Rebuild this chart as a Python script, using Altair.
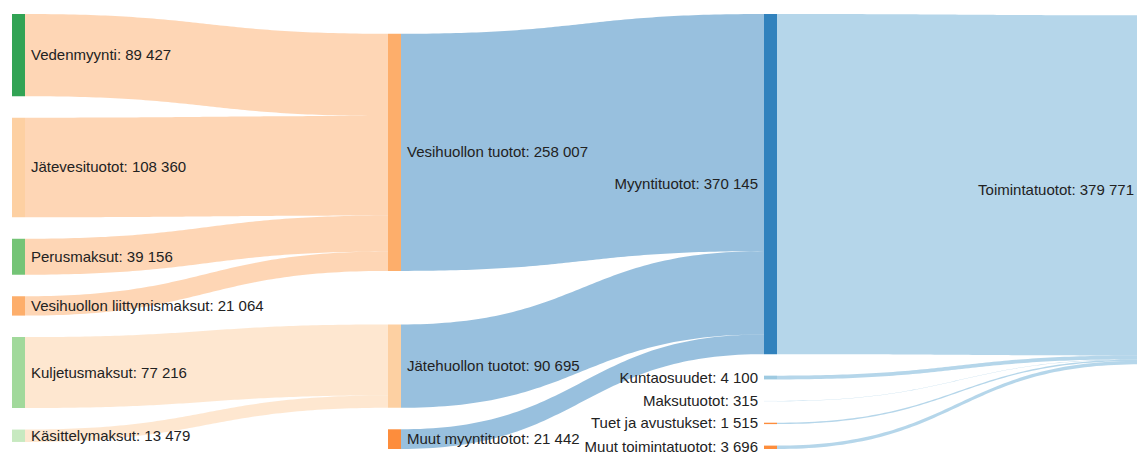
import altair as alt
import pandas as pd
import numpy as np

# ---------------- data ----------------
node_names = [
    "Vedenmyynti", "Jätevesituotot", "Perusmaksut", "Vesihuollon liittymismaksut",
    "Kuljetusmaksut", "Käsittelymaksut",
    "Vesihuollon tuotot", "Jätehuollon tuotot", "Muut myyntituotot",
    "Myyntituotot", "Kuntaosuudet", "Maksutuotot", "Tuet ja avustukset", "Muut toimintatuotot",
    "Toimintatuotot",
]
node_colors = [
    "#31a354", "#fdd0a2", "#74c476", "#fdae6b",
    "#a1d99b", "#c7e9c0",
    "#fdae6b", "#fdd0a2", "#fd8d3c",
    "#3182bd", "#9ecae1", "#c6dbef", "#fd8d3c", "#fd8d3c",
    "#6baed6",
]
link_sources = [
    "Vedenmyynti", "Jätevesituotot", "Perusmaksut", "Vesihuollon liittymismaksut",
    "Kuljetusmaksut", "Käsittelymaksut",
    "Vesihuollon tuotot", "Jätehuollon tuotot", "Muut myyntituotot",
    "Myyntituotot", "Kuntaosuudet", "Maksutuotot", "Tuet ja avustukset", "Muut toimintatuotot",
]
link_targets = [
    "Vesihuollon tuotot", "Vesihuollon tuotot", "Vesihuollon tuotot", "Vesihuollon tuotot",
    "Jätehuollon tuotot", "Jätehuollon tuotot",
    "Myyntituotot", "Myyntituotot", "Myyntituotot",
    "Toimintatuotot", "Toimintatuotot", "Toimintatuotot", "Toimintatuotot", "Toimintatuotot",
]
link_values = [
    89427, 108360, 39156, 21064,
    77216, 13479,
    258007, 90695, 21442,
    370145, 4100, 315, 1515, 3696,
]

# ---------------- layout settings ----------------
NODE_WIDTH = 13
NODE_PAD = 21.5
ITERATIONS = 6
W, H = 1129, 448
EXT_X0, EXT_X1, EXT_Y0, EXT_Y1 = 4, 1145, 6, 441

# ---------------- sankey layout (d3-sankey style, right aligned, nodeSort(null)) ----------------
idx = {nm: i for i, nm in enumerate(node_names)}
nodes = [dict(index=i, name=nm, color=node_colors[i], sourceLinks=[], targetLinks=[])
         for i, nm in enumerate(node_names)]
links = []
for k, (s, t, v) in enumerate(zip(link_sources, link_targets, link_values)):
    L = dict(index=k, source=nodes[idx[s]], target=nodes[idx[t]], value=v)
    links.append(L)
    L["source"]["sourceLinks"].append(L)
    L["target"]["targetLinks"].append(L)

for nd in nodes:
    nd["value"] = max(sum(l["value"] for l in nd["sourceLinks"]),
                      sum(l["value"] for l in nd["targetLinks"]))


def node_height(nd):
    if not nd["sourceLinks"]:
        return 0
    return 1 + max(node_height(l["target"]) for l in nd["sourceLinks"])


for nd in nodes:
    nd["height"] = node_height(nd)
ncols = max(nd["height"] for nd in nodes) + 1
kx = (EXT_X1 - EXT_X0 - NODE_WIDTH) / (ncols - 1)
columns = [[] for _ in range(ncols)]
for nd in nodes:
    nd["layer"] = ncols - 1 - nd["height"]
    nd["x0"] = EXT_X0 + nd["layer"] * kx
    nd["x1"] = nd["x0"] + NODE_WIDTH
    columns[nd["layer"]].append(nd)

py = min(NODE_PAD, (EXT_Y1 - EXT_Y0) / (max(len(c) for c in columns) - 1))


def sort_src(lst):
    lst.sort(key=lambda l: (l["source"]["y0"], l["index"]))


def sort_tgt(lst):
    lst.sort(key=lambda l: (l["target"]["y0"], l["index"]))


def reorder_links(col):
    for nd in col:
        sort_tgt(nd["sourceLinks"])
        sort_src(nd["targetLinks"])


def reorder_node_links(nd):
    for l in nd["targetLinks"]:
        sort_tgt(l["source"]["sourceLinks"])
    for l in nd["sourceLinks"]:
        sort_src(l["target"]["targetLinks"])


ky = min((EXT_Y1 - EXT_Y0 - (len(c) - 1) * py) / sum(nd["value"] for nd in c) for c in columns)
for col in columns:
    y = EXT_Y0
    for nd in col:
        nd["y0"] = y
        nd["y1"] = y + nd["value"] * ky
        y = nd["y1"] + py
        for l in nd["sourceLinks"]:
            l["width"] = l["value"] * ky
    y = (EXT_Y1 - y + py) / (len(col) + 1)
    for i, nd in enumerate(col):
        nd["y0"] += y * (i + 1)
        nd["y1"] += y * (i + 1)
for col in columns:
    reorder_links(col)


def target_top(source, target):
    y = source["y0"] - (len(source["sourceLinks"]) - 1) * py / 2
    for l in source["sourceLinks"]:
        if l["target"] is target:
            break
        y += l["width"] + py
    for l in target["targetLinks"]:
        if l["source"] is source:
            break
        y -= l["width"]
    return y


def source_top(source, target):
    y = target["y0"] - (len(target["targetLinks"]) - 1) * py / 2
    for l in target["targetLinks"]:
        if l["source"] is source:
            break
        y += l["width"] + py
    for l in source["sourceLinks"]:
        if l["target"] is target:
            break
        y -= l["width"]
    return y


def collide_down(col, y, i, alpha):
    while i < len(col):
        nd = col[i]
        dy = (y - nd["y0"]) * alpha
        if dy > 1e-6:
            nd["y0"] += dy
            nd["y1"] += dy
        y = nd["y1"] + py
        i += 1


def collide_up(col, y, i, alpha):
    while i >= 0:
        nd = col[i]
        dy = (nd["y1"] - y) * alpha
        if dy > 1e-6:
            nd["y0"] -= dy
            nd["y1"] -= dy
        y = nd["y0"] - py
        i -= 1


def resolve(col, alpha):
    i = len(col) >> 1
    subj = col[i]
    collide_up(col, subj["y0"] - py, i - 1, alpha)
    collide_down(col, subj["y1"] + py, i + 1, alpha)
    collide_up(col, EXT_Y1, len(col) - 1, alpha)
    collide_down(col, EXT_Y0, 0, alpha)


for it in range(ITERATIONS):
    alpha = 0.99 ** it
    beta = max(1 - alpha, (it + 1) / ITERATIONS)
    for ci in range(ncols - 2, -1, -1):
        col = columns[ci]
        for src in col:
            ys = ws = 0.0
            for l in src["sourceLinks"]:
                v = l["value"] * (l["target"]["layer"] - src["layer"])
                ys += source_top(src, l["target"]) * v
                ws += v
            if not ws > 0:
                continue
            dy = (ys / ws - src["y0"]) * alpha
            src["y0"] += dy
            src["y1"] += dy
            reorder_node_links(src)
        resolve(col, beta)
    for ci in range(1, ncols):
        col = columns[ci]
        for tgt in col:
            ys = ws = 0.0
            for l in tgt["targetLinks"]:
                v = l["value"] * (tgt["layer"] - l["source"]["layer"])
                ys += target_top(l["source"], tgt) * v
                ws += v
            if not ws > 0:
                continue
            dy = (ys / ws - tgt["y0"]) * alpha
            tgt["y0"] += dy
            tgt["y1"] += dy
            reorder_node_links(tgt)
        resolve(col, beta)

for nd in nodes:
    a = nd["y0"]
    for l in nd["sourceLinks"]:
        l["ly0"] = a + l["width"] / 2
        a += l["width"]
    b = nd["y0"]
    for l in nd["targetLinks"]:
        l["ly1"] = b + l["width"] / 2
        b += l["width"]

# ---------------- tables for the chart ----------------
ts = np.linspace(0, 1, 81)
link_tables = []
for l in links:
    sx, tx = l["source"]["x1"], l["target"]["x0"]
    xm = (sx + tx) / 2
    u = 1 - ts
    xx = u ** 3 * sx + 3 * u * u * ts * xm + 3 * u * ts * ts * xm + ts ** 3 * tx
    yc = (u ** 3 + 3 * u * u * ts) * l["ly0"] + (3 * u * ts * ts + ts ** 3) * l["ly1"]
    link_tables.append((l["target"]["color"], pd.DataFrame(dict(
        x=xx, y=yc - l["width"] / 2, y2=yc + l["width"] / 2))))


def fmt(v):
    return f"{v:,}".replace(",", " ")


node_df = pd.DataFrame([
    dict(name=nd["name"], x=nd["x0"], x2=nd["x1"], y=nd["y0"], y2=nd["y1"],
         ym=(nd["y0"] + nd["y1"]) / 2, color=nd["color"],
         label=f'{nd["name"]}: {fmt(nd["value"])}',
         side="left" if nd["x0"] < W / 2 else "right")
    for nd in nodes
])

xs = alt.Scale(domain=[0, W], nice=False, zero=False)
ysc = alt.Scale(domain=[0, H], nice=False, zero=False, reverse=True)

link_layers = [
    alt.Chart(df).mark_area(opacity=0.5, color=col, interpolate="linear", clip=True).encode(
        x=alt.X("x:Q", scale=xs, axis=None),
        y=alt.Y("y:Q", scale=ysc, axis=None),
        y2="y2:Q",
    )
    for col, df in link_tables
]

node_layer = alt.Chart(node_df).mark_rect(clip=True).encode(
    x=alt.X("x:Q", scale=xs, axis=None),
    x2="x2:Q",
    y=alt.Y("y:Q", scale=ysc, axis=None),
    y2="y2:Q",
    color=alt.Color("color:N", scale=None),
)

label_left = alt.Chart(node_df[node_df.side == "left"]).mark_text(
    align="left", baseline="middle", dx=6, font="Liberation Sans", fontSize=15, color="#222222"
).encode(
    x=alt.X("x2:Q", scale=xs, axis=None),
    y=alt.Y("ym:Q", scale=ysc, axis=None),
    text="label:N",
)

label_right = alt.Chart(node_df[node_df.side == "right"]).mark_text(
    align="right", baseline="middle", dx=-6, font="Liberation Sans", fontSize=15, color="#222222"
).encode(
    x=alt.X("x:Q", scale=xs, axis=None),
    y=alt.Y("ym:Q", scale=ysc, axis=None),
    text="label:N",
)

chart = alt.layer(*link_layers, node_layer, label_left, label_right).properties(
    width=W, height=H, padding=0, background="white",
    autosize=alt.AutoSizeParams(type="none"),
).configure_view(stroke=None)

chart.save("out.html", embed_options={"renderer": "svg", "actions": False})
